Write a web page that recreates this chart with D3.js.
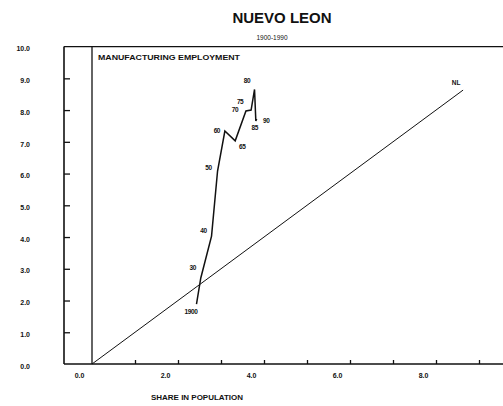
<!DOCTYPE html>
<html>
<head>
<meta charset="utf-8">
<script src="https://cdn.jsdelivr.net/npm/d3@7"></script>
<style>
  html, body { margin: 0; padding: 0; background: #fff; }
  svg { display: block; font-family: "Liberation Sans", Arial, sans-serif; }
</style>
</head>
<body>
<svg id="chart" width="503" height="406"></svg>
<script>
// ---- data ----
const years      = ["1900", "30", "40", "50", "60", "65", "70", "75", "80", "85", "90"];
const popShare   = [24.3, 25.3, 27.8, 29.2, 30.9, 33.3, 35.8, 37.0, 37.8, 38.1, 38.3];
const mfgShare   = [18.9, 27.1, 40.3, 60.8, 73.4, 70.3, 79.7, 80.0, 86.5, 76.6, 77.2];
const diagonal   = [[0, 0], [86.3, 86.3]];
const diagLabel  = "NL";
const yTicks     = [0, 10, 20, 30, 40, 50, 60, 70, 80, 90, 100];
const yTickLabels= ["0.0", "1.0", "2.0", "3.0", "4.0", "5.0", "6.0", "7.0", "8.0", "9.0", "10.0"];
const xTicks     = [0, 10, 20, 30, 40, 50, 60, 70, 80, 90];
const xTickLabels= ["0.0", "", "2.0", "", "4.0", "", "6.0", "", "8.0", ""];
const title      = "NUEVO LEON";
const subtitle   = "1900-1990";
const yTitle     = "MANUFACTURING EMPLOYMENT";
const xTitle     = "SHARE IN POPULATION";

// label placement offsets (pixels, styling only)
const labelOffsets = [[-5.5, 7], [-8, -10], [-8, -6], [-9, -4], [-8, -1], [7, 6],
                      [-11, -2], [-11, -9], [-7.5, -8.5], [-1, 7], [9.5, 2]];

const svg = d3.select("#chart");
const x = d3.scaleLinear().domain([0, 90]).range([92, 479]);
const y = d3.scaleLinear().domain([0, 100]).range([364, 46.6]);
const frameLeft = 64, frameRight = 510;

// frame: top line, left line, bottom axis
const frame = svg.append("g").attr("stroke", "#111").attr("fill", "none");
frame.append("line").attr("x1", frameLeft).attr("x2", frameRight)
  .attr("y1", y(100)).attr("y2", y(100)).attr("stroke-width", 1.3);
frame.append("line").attr("x1", frameLeft).attr("x2", frameLeft)
  .attr("y1", y(100)).attr("y2", y(0)).attr("stroke-width", 1.6);
frame.append("line").attr("x1", frameLeft).attr("x2", frameRight)
  .attr("y1", y(0)).attr("y2", y(0)).attr("stroke-width", 1.6);
// vertical zero line
frame.append("line").attr("x1", x(0)).attr("x2", x(0))
  .attr("y1", y(100)).attr("y2", y(0)).attr("stroke-width", 1.3);

// y axis (ticks inward on frame)
const yAxis = d3.axisLeft(y).tickValues(yTicks).tickSize(-6).tickPadding(34)
  .tickFormat((d, i) => yTickLabels[i]);
const gy = svg.append("g").attr("transform", `translate(${frameLeft},0)`).call(yAxis);
gy.select(".domain").remove();
gy.selectAll(".tick line").attr("stroke", "#111").attr("stroke-width", 1.3)
  .filter(d => d === 0 || d === 100).remove();
gy.selectAll(".tick text").attr("fill", "#111").attr("font-size", 7)
  .attr("font-weight", "bold").attr("dy", "0.6em");

// x axis (ticks upward)
const xAxis = d3.axisBottom(x).tickValues(xTicks).tickSize(-4).tickPadding(9)
  .tickFormat((d, i) => xTickLabels[i]);
const gx = svg.append("g").attr("transform", `translate(0,${y(0)})`).call(xAxis);
gx.select(".domain").remove();
gx.selectAll(".tick line").attr("stroke", "#111").attr("stroke-width", 1.3)
  .filter(d => d === 0).remove();
gx.selectAll(".tick text").attr("fill", "#111").attr("font-size", 7)
  .attr("font-weight", "bold").attr("dx", -13);

// diagonal line
svg.append("path").datum(diagonal)
  .attr("d", d3.line().x(d => x(d[0])).y(d => y(d[1])))
  .attr("fill", "none").attr("stroke", "#111").attr("stroke-width", 1);
svg.append("text").attr("x", x(diagonal[1][0]) - 7).attr("y", y(diagonal[1][1]) - 5)
  .attr("text-anchor", "middle").attr("font-size", 6.5).attr("font-weight", "bold")
  .attr("fill", "#111").text(diagLabel);

// trajectory
const pts = popShare.map((v, i) => [v, mfgShare[i]]);
svg.append("path").datum(pts)
  .attr("d", d3.line().x(d => x(d[0])).y(d => y(d[1])))
  .attr("fill", "none").attr("stroke", "#111").attr("stroke-width", 1.5)
  .attr("stroke-linejoin", "miter");
svg.append("g").selectAll("text").data(pts).join("text")
  .attr("x", (d, i) => x(d[0]) + labelOffsets[i][0])
  .attr("y", (d, i) => y(d[1]) + labelOffsets[i][1])
  .attr("text-anchor", "middle").attr("dominant-baseline", "central")
  .attr("font-size", 6.5).attr("font-weight", "bold").attr("fill", "#111")
  .attr("letter-spacing", -0.4)
  .text((d, i) => years[i]);

// titles
svg.append("text").attr("x", 282).attr("y", 23).attr("text-anchor", "middle")
  .attr("font-size", 15).attr("font-weight", "bold").attr("fill", "#111").text(title);
svg.append("text").attr("x", 272).attr("y", 40).attr("text-anchor", "middle")
  .attr("font-size", 6.5).attr("fill", "#111").text(subtitle);
svg.append("text").attr("x", 98).attr("y", 60)
  .attr("font-size", 7).attr("font-weight", "bold").attr("fill", "#111")
  .attr("textLength", 142).attr("lengthAdjust", "spacingAndGlyphs").text(yTitle);
svg.append("text").attr("x", 151).attr("y", 400)
  .attr("font-size", 7).attr("font-weight", "bold").attr("fill", "#111")
  .attr("textLength", 92).attr("lengthAdjust", "spacingAndGlyphs").text(xTitle);
</script>
</body>
</html>
